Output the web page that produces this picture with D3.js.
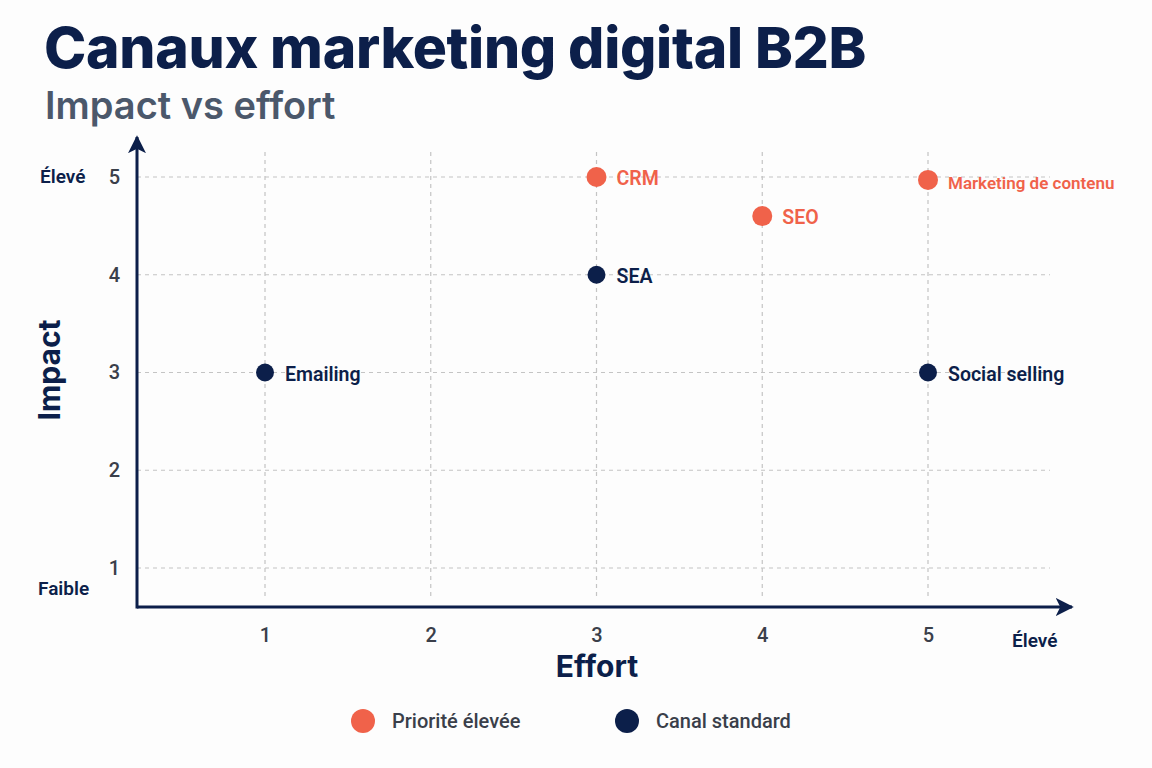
<!DOCTYPE html>
<html><head><meta charset="utf-8">
<script src="https://cdn.jsdelivr.net/npm/d3@7"></script>
<style>
html,body{margin:0;padding:0;background:#fdfdfd;}
svg{display:block;font-family:Roboto,"Noto Sans",sans-serif;}
</style></head>
<body>
<svg id="chart" width="1152" height="768"></svg>
<script>
const channels = ["CRM","Marketing de contenu","SEO","SEA","Emailing","Social selling"];
const effort   = [3, 5, 4, 3, 1, 5];
const impact   = [5, 4.97, 4.6, 4, 3, 3];
const priority = [true, true, true, false, false, false];
const xTicks = [1,2,3,4,5];
const yTicks = [1,2,3,4,5];
const legendLabels = ["Priorité élevée","Canal standard"];

const NAVY = "#0c1f4a", CORAL = "#f0624a", GRID = "#c4c4c4", TXT = "#3a3f4a";

const svg = d3.select("#chart");
svg.append("rect").attr("width",1152).attr("height",768).attr("fill","#fdfdfd");

const x = d3.scaleLinear().domain([1,5]).range([265,928]);
const y = d3.scaleLinear().domain([1,5]).range([568,177]);
const x0 = 137, y0 = 607;

// Title
svg.append("text").attr("x",44).attr("y",68).attr("fill",NAVY)
  .attr("font-family","Inter,Roboto,sans-serif").attr("font-weight",800).attr("font-size",57)
  .attr("letter-spacing",-0.3).text("Canaux marketing digital B2B");
svg.append("text").attr("x",45).attr("y",119).attr("fill","#4b586b")
  .attr("font-family","Inter,Roboto,sans-serif").attr("font-weight",600).attr("font-size",38)
  .attr("letter-spacing",0).text("Impact vs effort");

// grid
const g = svg.append("g");
g.selectAll(".vg").data(xTicks).join("line")
  .attr("x1",d=>x(d)).attr("x2",d=>x(d)).attr("y1",152).attr("y2",598)
  .attr("stroke",GRID).attr("stroke-width",1.2).attr("stroke-dasharray","4,4");
g.selectAll(".hg").data(yTicks).join("line")
  .attr("x1",x0).attr("x2",1050).attr("y1",d=>y(d)).attr("y2",d=>y(d))
  .attr("stroke",GRID).attr("stroke-width",1.2).attr("stroke-dasharray","4,4");

// axes (using d3 axes for ticks text)
const xAxis = svg.append("g").attr("transform",`translate(0,${y0})`)
  .call(d3.axisBottom(x).tickValues(xTicks).tickSize(0).tickPadding(21).tickFormat(d3.format("d")));
xAxis.select(".domain").remove();
xAxis.selectAll("text").attr("font-size",20).attr("fill",TXT).attr("font-family","Roboto,sans-serif").attr("font-weight",500);

const yAxis = svg.append("g").attr("transform",`translate(${x0},0)`)
  .call(d3.axisLeft(y).tickValues(yTicks).tickSize(0).tickPadding(17).tickFormat(d3.format("d")));
yAxis.select(".domain").remove();
yAxis.selectAll("text").attr("font-size",20).attr("fill",TXT).attr("font-family","Roboto,sans-serif").attr("font-weight",500);

// axis lines with arrows
svg.append("defs").append("marker").attr("id","arr").attr("viewBox","0 0 10 10")
  .attr("refX",9).attr("refY",5).attr("markerWidth",6).attr("markerHeight",6)
  .attr("markerUnits","strokeWidth").attr("orient","auto")
  .append("path").attr("d","M0,0 L10,5 L0,10 L2.5,5 Z").attr("fill",NAVY);
svg.append("line").attr("x1",x0).attr("y1",y0).attr("x2",1072).attr("y2",y0)
  .attr("stroke",NAVY).attr("stroke-width",3).attr("marker-end","url(#arr)");
svg.append("line").attr("x1",x0).attr("y1",y0+1.5).attr("x2",x0).attr("y2",137)
  .attr("stroke",NAVY).attr("stroke-width",3).attr("marker-end","url(#arr)");

// axis end labels
const lab = (t,xx,yy,anchor)=>svg.append("text").attr("x",xx).attr("y",yy).attr("text-anchor",anchor||"start")
  .attr("fill",NAVY).attr("font-size",19).attr("font-weight",600).attr("font-family","Roboto,sans-serif").text(t);
lab("Élevé",40,183);
lab("Faible",38,595);
lab("Élevé",1012,647);

// axis titles
svg.append("text").attr("x",597).attr("y",677).attr("text-anchor","middle").attr("fill",NAVY)
  .attr("font-size",30).attr("font-weight",700).attr("font-family","Inter,Roboto,sans-serif").text("Effort");
svg.append("text").attr("transform","translate(60,370) rotate(-90)").attr("text-anchor","middle").attr("fill",NAVY)
  .attr("font-size",30).attr("font-weight",700).attr("font-family","Inter,Roboto,sans-serif").text("Impact");

// points
const data = channels.map((c,i)=>({c, e:effort[i], im:impact[i], p:priority[i]}));
svg.selectAll(".pt").data(data).join("circle")
  .attr("cx",d=>x(d.e)).attr("cy",d=>y(d.im)).attr("r",d=>d.p?10:9)
  .attr("fill",d=>d.p?CORAL:NAVY);
svg.selectAll(".pl").data(data).join("text")
  .attr("x",d=>x(d.e)+20).attr("y",d=>y(d.im)+ (d.c==="Marketing de contenu"?9:8))
  .attr("fill",d=>d.p?CORAL:NAVY)
  .attr("font-size",d=>d.c==="Marketing de contenu"?17:19.5).attr("font-weight",600)
  .attr("font-family","Roboto,sans-serif").text(d=>d.c);

// legend
const leg = svg.selectAll(".lg").data(legendLabels).join("g")
  .attr("transform",(d,i)=>`translate(${i===0?363:627},721)`);
leg.append("circle").attr("r",12).attr("fill",(d,i)=>i===0?CORAL:NAVY);
leg.append("text").attr("x",29).attr("y",7).attr("font-size",20).attr("font-weight",500)
  .attr("fill",TXT).attr("font-family","Roboto,sans-serif").text(d=>d);
</script>
</body></html>
